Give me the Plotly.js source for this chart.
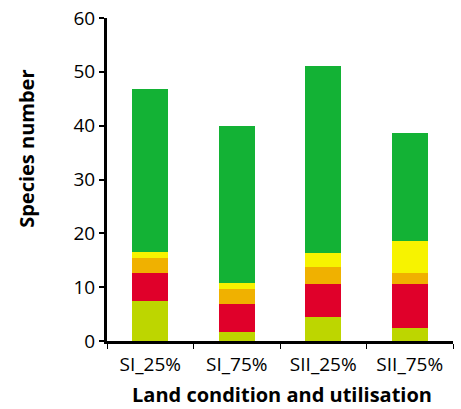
<!DOCTYPE html>
<html>
<head>
<meta charset="utf-8">
<script src="https://cdn.plot.ly/plotly-3.0.1.min.js"></script>
<style>html,body{margin:0;padding:0;background:#fff;}#chart{width:461px;height:409px;}</style>
</head>
<body>
<div id="chart"></div>
<script>
const categories = ["SI_25%", "SI_75%", "SII_25%", "SII_75%"];
const seriesNames = ["Yellow-green", "Red", "Orange", "Yellow", "Green"];
const yellowGreen = [7.4, 1.6, 4.4, 2.5];
const red = [5.2, 5.2, 6.1, 8.0];
const orange = [2.8, 2.8, 3.3, 2.2];
const yellow = [1.1, 1.1, 2.6, 5.9];
const green = [30.4, 29.3, 34.6, 20.0];
const yTicks = [0, 10, 20, 30, 40, 50, 60];

const seriesValues = [yellowGreen, red, orange, yellow, green];
const colors = ["#bdd600", "#e0002a", "#f0b100", "#f7f300", "#13b235"];

const traces = seriesValues.map((vals, i) => ({
  type: "bar",
  name: seriesNames[i],
  x: categories,
  y: vals,
  width: 0.415,
  marker: {color: colors[i], line: {width: 0}},
  hoverinfo: "x+y"
}));

const font = "'Open Sans', 'Noto Sans', sans-serif";
const layout = {
  width: 461, height: 409,
  margin: {l: 107, r: 8, t: 18, b: 68},
  barmode: "stack",
  showlegend: false,
  paper_bgcolor: "#fff",
  plot_bgcolor: "#fff",
  font: {family: font, color: "#111"},
  xaxis: {
    type: "category",
    range: [-0.5, 3.5],
    showline: true, linecolor: "#000", linewidth: 3,
    ticks: "outside", tickson: "boundaries", ticklen: 5, tickwidth: 1, tickcolor: "#000",
    ticklabelstandoff: 4,
    showgrid: false, zeroline: false,
    tickfont: {size: 19, family: font, color: "#000"}
  },
  yaxis: {
    range: [0, 60],
    tickvals: yTicks,
    showline: true, linecolor: "#000", linewidth: 3,
    ticks: "outside", ticklen: 5, tickwidth: 2, tickcolor: "#000",
    showgrid: false, zeroline: false,
    tickfont: {size: 19, family: font, color: "#000"}
  },
  annotations: [
    {text: "<b>Species number</b>", textangle: -90, xref: "paper", yref: "paper",
     x: -0.235, y: 0.594, xanchor: "center", yanchor: "middle", showarrow: false,
     font: {size: 20, family: font, color: "#000"}},
    {text: "<b>Land condition and utilisation</b>", xref: "paper", yref: "paper",
     x: 0.506, y: -0.166, xanchor: "center", yanchor: "middle", showarrow: false,
     font: {size: 20, family: font, color: "#000"}}
  ]
};

Plotly.newPlot("chart", traces, layout, {staticPlot: true, displayModeBar: false});
</script>
</body>
</html>
